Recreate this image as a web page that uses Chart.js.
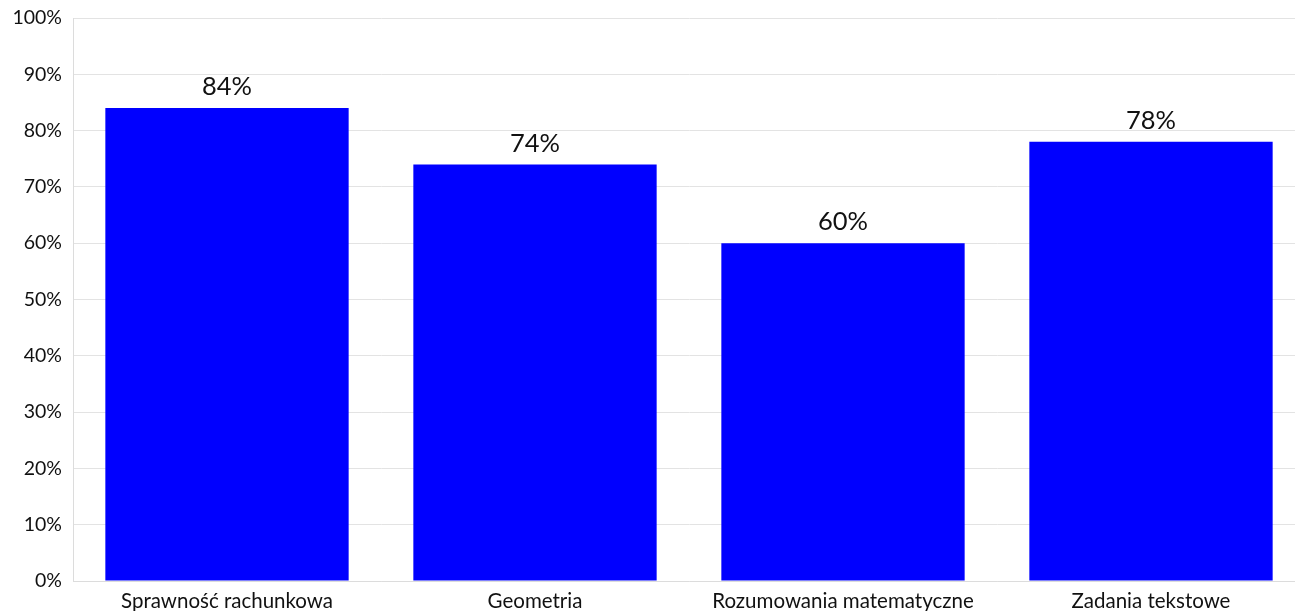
<!DOCTYPE html>
<html>
<head>
<meta charset="utf-8">
<script src="https://cdn.jsdelivr.net/npm/chart.js@4"></script>
<style>
  html, body { margin: 0; padding: 0; background: #fff; overflow: hidden; }
  #wrap { width: 1305px; height: 611px; }
</style>
</head>
<body>
<div id="wrap"><canvas id="chart" width="1305" height="611"></canvas></div>
<script>
// chart data
const categories = ['Sprawność rachunkowa', 'Geometria', 'Rozumowania matematyczne', 'Zadania tekstowe'];
const scores = [84, 74, 60, 78];
const yTicks = [0, 10, 20, 30, 40, 50, 60, 70, 80, 90, 100];

const FONT = 'Lato, "Open Sans", sans-serif';

// draws the value above each bar
const valueLabels = {
  id: 'valueLabels',
  afterDatasetsDraw(chart) {
    const { ctx } = chart;
    const meta = chart.getDatasetMeta(0);
    ctx.save();
    ctx.font = `25.5px ${FONT}`;
    ctx.fillStyle = '#111';
    ctx.textAlign = 'center';
    ctx.textBaseline = 'middle';
    meta.data.forEach((bar, i) => {
      ctx.fillText(scores[i] + '%', bar.x, bar.y - 21);
    });
    ctx.restore();
  }
};

new Chart(document.getElementById('chart'), {
  type: 'bar',
  data: {
    labels: categories,
    datasets: [{
      data: scores,
      backgroundColor: '#0000ff',
      borderWidth: 0,
      barPercentage: 0.79,
      categoryPercentage: 1.0,
    }],
  },
  options: {
    responsive: false,
    animation: false,
    layout: { padding: { top: 18, left: 0, right: 0, bottom: 0 } },
    plugins: {
      legend: { display: false },
      tooltip: { enabled: false },
    },
    scales: {
      x: {
        afterFit: (scale) => { scale.height = 30; },
        grid: { display: false },
        border: { color: '#dcdcdc' },
        ticks: {
          color: '#111',
          font: { family: FONT, size: 20.5 },
          padding: 0,
          maxRotation: 0,
        },
      },
      y: {
        min: 0,
        max: 100,
        afterFit: (scale) => { scale.width = 73; scale.paddingTop = 0; },
        afterBuildTicks: (scale) => { scale.ticks = yTicks.map((v) => ({ value: v })); },
        grid: { color: '#e3e3e3', drawTicks: false },
        border: { color: '#dcdcdc' },
        ticks: {
          color: '#111',
          font: { family: FONT, size: 19.5 },
          padding: 11,
          callback: (v) => v + '%',
        },
      },
    },
  },
  plugins: [valueLabels],
});
</script>
</body>
</html>
